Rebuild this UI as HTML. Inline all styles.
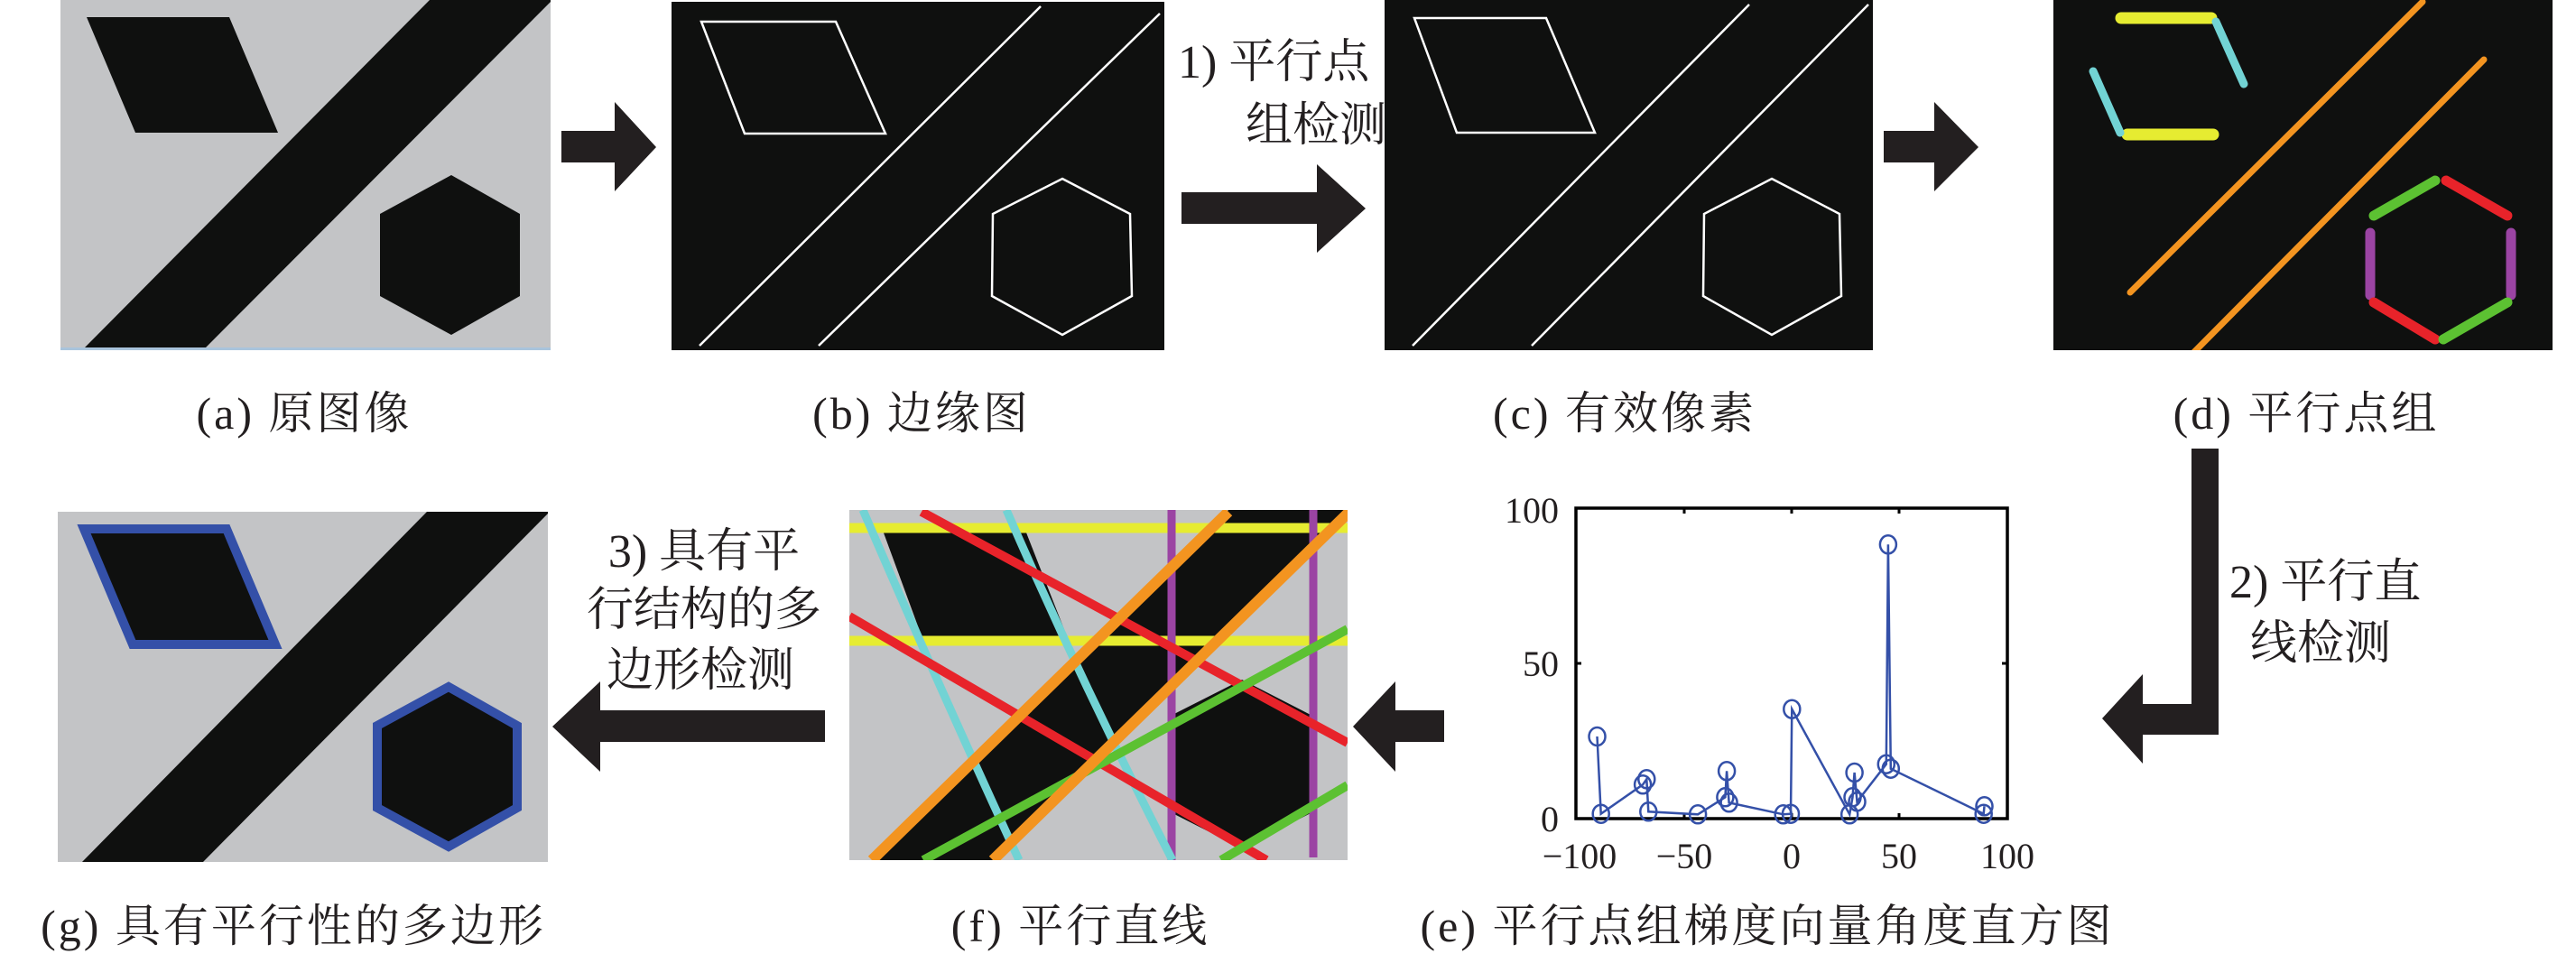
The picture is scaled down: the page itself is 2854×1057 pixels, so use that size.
<!DOCTYPE html>
<html><head><meta charset="utf-8"><style>
html,body{margin:0;padding:0;background:#fff;}
svg{display:block;}
text{font-family:"Liberation Serif","Noto Serif CJK SC",serif;fill:#231f20;}
</style></head><body>
<svg width="2854" height="1057" viewBox="0 0 2854 1057" xmlns="http://www.w3.org/2000/svg">
<defs>
<clipPath id="ca"><rect x="67" y="0" width="543" height="388"/></clipPath>
<clipPath id="cf"><rect x="941" y="565" width="552" height="388"/></clipPath>
<clipPath id="cd"><rect x="2275" y="0" width="553" height="388"/></clipPath>
</defs>

<!-- (a) -->
<g clip-path="url(#ca)">
<rect x="67" y="0" width="543" height="388" fill="#c3c4c6"/>
<polygon points="96,19 254,19 308,147 150,147" fill="#0f100f"/>
<polygon points="476,0 612,0 227,386 93,386" fill="#0f100f"/>
<polygon points="500,194 576,237 576,328 500,371 421,328 421,237" fill="#0f100f"/>
<rect x="67" y="385" width="543" height="4" fill="#a9c4dc"/>
</g>

<!-- arrow a->b -->
<rect x="622" y="145" width="60" height="35" fill="#231f20"/>
<polygon points="681,113 727,163 681,212" fill="#231f20"/>

<!-- (b) -->
<rect x="744" y="2" width="546" height="386" fill="#0f100f"/>
<g fill="none" stroke="#fff" stroke-width="2.5">
<polygon points="777,24 926,24 981,148 825,148"/>
<line x1="1153" y1="7" x2="775" y2="383"/>
<line x1="1285" y1="15" x2="907" y2="383"/>
<polygon points="1177,198 1252,237 1254,328 1177,371 1099,328 1100,237"/>
</g>

<!-- label 1 -->
<text x="1305" y="86" font-size="52">1) 平行点</text>
<text x="1380" y="156" font-size="52">组检测</text>
<rect x="1309" y="213" width="151" height="35" fill="#231f20"/>
<polygon points="1459,182 1513,231 1459,280" fill="#231f20"/>

<!-- (c) -->
<rect x="1534" y="0" width="541" height="388" fill="#0f100f"/>
<g fill="none" stroke="#fff" stroke-width="2.5">
<polygon points="1567,20 1713,20 1767,147 1614,147"/>
<line x1="1938" y1="5" x2="1565" y2="383"/>
<line x1="2070" y1="5" x2="1697" y2="383"/>
<polygon points="1963,198 2038,237 2040,328 1963,371 1887,328 1888,237"/>
</g>

<!-- arrow c->d -->
<rect x="2087" y="145" width="57" height="35" fill="#231f20"/>
<polygon points="2143,113 2192,163 2143,212" fill="#231f20"/>

<!-- (d) -->
<g clip-path="url(#cd)">
<rect x="2275" y="0" width="553" height="388" fill="#0f100f"/>
<g stroke-linecap="round">
<line x1="2350" y1="20" x2="2450" y2="20" stroke="#e6ec31" stroke-width="13"/>
<line x1="2357" y1="149" x2="2452" y2="149" stroke="#e6ec31" stroke-width="13"/>
<line x1="2455" y1="24" x2="2486" y2="93" stroke="#72d3d4" stroke-width="9"/>
<line x1="2319" y1="79" x2="2349" y2="147" stroke="#72d3d4" stroke-width="9"/>
<line x1="2684" y1="2" x2="2360" y2="324" stroke="#f39420" stroke-width="7"/>
<line x1="2752" y1="66" x2="2429" y2="392" stroke="#f39420" stroke-width="7"/>
<line x1="2630" y1="239" x2="2698" y2="200" stroke="#5cc132" stroke-width="11"/>
<line x1="2710" y1="200" x2="2778" y2="239" stroke="#e8232a" stroke-width="11"/>
<line x1="2626" y1="258" x2="2626" y2="327" stroke="#9b44a3" stroke-width="11"/>
<line x1="2782" y1="258" x2="2782" y2="327" stroke="#9b44a3" stroke-width="11"/>
<line x1="2630" y1="335" x2="2698" y2="376" stroke="#e8232a" stroke-width="11"/>
<line x1="2707" y1="376" x2="2778" y2="335" stroke="#5cc132" stroke-width="11"/>
</g>
</g>

<!-- captions top -->
<text x="337" y="475" font-size="50" text-anchor="middle" letter-spacing="3">(a) 原图像</text>
<text x="1021" y="475" font-size="50" text-anchor="middle" letter-spacing="3">(b) 边缘图</text>
<text x="1800" y="475" font-size="50" text-anchor="middle" letter-spacing="3">(c) 有效像素</text>
<text x="2555" y="475" font-size="50" text-anchor="middle" letter-spacing="3">(d) 平行点组</text>

<!-- arrow d->e -->
<rect x="2428" y="497" width="30" height="317" fill="#231f20"/>
<rect x="2372" y="780" width="86" height="34" fill="#231f20"/>
<polygon points="2374,747 2329,796 2374,846" fill="#231f20"/>
<text x="2470" y="662" font-size="52">2) 平行直</text>
<text x="2493" y="730" font-size="52">线检测</text>

<!-- (e) chart -->
<rect x="1746" y="563" width="478" height="344" fill="none" stroke="#000" stroke-width="3.5"/>
<g stroke="#000" stroke-width="3">
<line x1="1866" y1="563" x2="1866" y2="569"/><line x1="1985" y1="563" x2="1985" y2="569"/><line x1="2104" y1="563" x2="2104" y2="569"/>
<line x1="1866" y1="907" x2="1866" y2="901"/><line x1="1985" y1="907" x2="1985" y2="901"/><line x1="2104" y1="907" x2="2104" y2="901"/>
<line x1="1746" y1="735" x2="1752" y2="735"/><line x1="2224" y1="735" x2="2218" y2="735"/>
</g>
<g font-size="40">
<text x="1727" y="579" text-anchor="end">100</text>
<text x="1727" y="749" text-anchor="end">50</text>
<text x="1727" y="921" text-anchor="end">0</text>
<text x="1750" y="962" text-anchor="middle">−100</text>
<text x="1866" y="962" text-anchor="middle">−50</text>
<text x="1985" y="962" text-anchor="middle">0</text>
<text x="2104" y="962" text-anchor="middle">50</text>
<text x="2224" y="962" text-anchor="middle">100</text>
</g>
<polyline fill="none" stroke="#3450a8" stroke-width="2.5" points="1769.5,816 1773.7,901.7 1820.1,869.3 1824.3,863.3 1826.3,899.3 1881.1,902.3 1911.4,883.3 1913.1,854.3 1915.6,889.3 1975.7,902.3 1984,901.7 1985.3,785.7 2049.2,902.3 2052.5,883.3 2054.6,856 2057.5,888.3 2089.8,846.7 2091.9,603.3 2094.8,851.7 2197.7,901.7 2198.5,893.3"/>
<g fill="none" stroke="#3450a8" stroke-width="2.5">
<ellipse cx="1769.5" cy="816" rx="9" ry="10"/><ellipse cx="1773.7" cy="901.7" rx="9" ry="10"/>
<ellipse cx="1820.1" cy="869.3" rx="9" ry="10"/><ellipse cx="1824.3" cy="863.3" rx="9" ry="10"/>
<ellipse cx="1826.3" cy="899.3" rx="9" ry="10"/><ellipse cx="1881.1" cy="902.3" rx="9" ry="10"/>
<ellipse cx="1911.4" cy="883.3" rx="9" ry="10"/><ellipse cx="1913.1" cy="854.3" rx="9" ry="10"/>
<ellipse cx="1915.6" cy="889.3" rx="9" ry="10"/><ellipse cx="1975.7" cy="902.3" rx="9" ry="10"/>
<ellipse cx="1984" cy="901.7" rx="9" ry="10"/><ellipse cx="1985.3" cy="785.7" rx="9" ry="10"/>
<ellipse cx="2049.2" cy="902.3" rx="9" ry="10"/><ellipse cx="2052.5" cy="883.3" rx="9" ry="10"/>
<ellipse cx="2054.6" cy="856" rx="9" ry="10"/><ellipse cx="2057.5" cy="888.3" rx="9" ry="10"/>
<ellipse cx="2089.8" cy="846.7" rx="9" ry="10"/><ellipse cx="2091.9" cy="603.3" rx="9" ry="10"/>
<ellipse cx="2094.8" cy="851.7" rx="9" ry="10"/><ellipse cx="2197.7" cy="901.7" rx="9" ry="10"/>
<ellipse cx="2198.5" cy="893.3" rx="9" ry="10"/>
</g>

<!-- arrow e->f -->
<rect x="1545" y="787" width="55" height="35" fill="#231f20"/>
<polygon points="1546,755 1499,805 1546,855" fill="#231f20"/>

<!-- (f) -->
<g clip-path="url(#cf)">
<rect x="941" y="565" width="552" height="388" fill="#c3c4c6"/>
<polygon points="1361,565 1495,565 1100,953 966,953" fill="#0f100f"/>
<polygon points="977,585 1135,585 1184,710 1023,710" fill="#0f100f"/>
<polygon points="1376,753 1454,793 1454,900 1376,940 1297,900 1297,793" fill="#0f100f"/>
<line x1="941" y1="585" x2="1493" y2="585" stroke="#e6ec31" stroke-width="11"/>
<line x1="941" y1="710" x2="1493" y2="710" stroke="#e6ec31" stroke-width="11"/>
<line x1="1298" y1="565" x2="1298" y2="953" stroke="#9b44a3" stroke-width="9"/>
<line x1="1455" y1="565" x2="1455" y2="950" stroke="#9b44a3" stroke-width="9"/>
<path d="M956,565 Q1040,760 1129,953" fill="none" stroke="#72d3d4" stroke-width="9"/>
<path d="M1115,565 Q1200,760 1299,953" fill="none" stroke="#72d3d4" stroke-width="9"/>
<line x1="1021" y1="567" x2="1493" y2="823" stroke="#e8232a" stroke-width="10"/>
<line x1="941" y1="683" x2="1403" y2="953" stroke="#e8232a" stroke-width="10"/>
<line x1="1493" y1="697" x2="1023" y2="953" stroke="#5cc132" stroke-width="10"/>
<line x1="1493" y1="870" x2="1353" y2="953" stroke="#5cc132" stroke-width="10"/>
<line x1="1361" y1="567" x2="966" y2="953" stroke="#f39420" stroke-width="12"/>
<line x1="1495" y1="567" x2="1100" y2="953" stroke="#f39420" stroke-width="12"/>
</g>

<!-- arrow f->g -->
<rect x="664" y="787" width="250" height="35" fill="#231f20"/>
<polygon points="665,755 612,805 665,855" fill="#231f20"/>
<text x="780" y="628" font-size="52" text-anchor="middle">3) 具有平</text>
<text x="780" y="693" font-size="52" text-anchor="middle">行结构的多</text>
<text x="776" y="760" font-size="52" text-anchor="middle">边形检测</text>

<!-- (g) -->
<g transform="translate(-3,567)">
<g clip-path="url(#ca)">
<rect x="67" y="0" width="543" height="389" fill="#c3c4c6"/>
<polygon points="476,0 612,0 227,389 93,389" fill="#0f100f"/>
<polygon points="96,19 254,19 308,147 150,147" fill="#0f100f" stroke="#3450a8" stroke-width="10" stroke-linejoin="miter"/>
<polygon points="500,194 576,237 576,328 500,371 421,328 421,237" fill="#0f100f" stroke="#3450a8" stroke-width="10"/>
</g>
</g>

<!-- captions bottom -->
<text x="325" y="1043" font-size="50" text-anchor="middle" letter-spacing="3">(g) 具有平行性的多边形</text>
<text x="1197" y="1043" font-size="50" text-anchor="middle" letter-spacing="3">(f) 平行直线</text>
<text x="1958" y="1043" font-size="50" text-anchor="middle" letter-spacing="3">(e) 平行点组梯度向量角度直方图</text>
</svg>
</body></html>
